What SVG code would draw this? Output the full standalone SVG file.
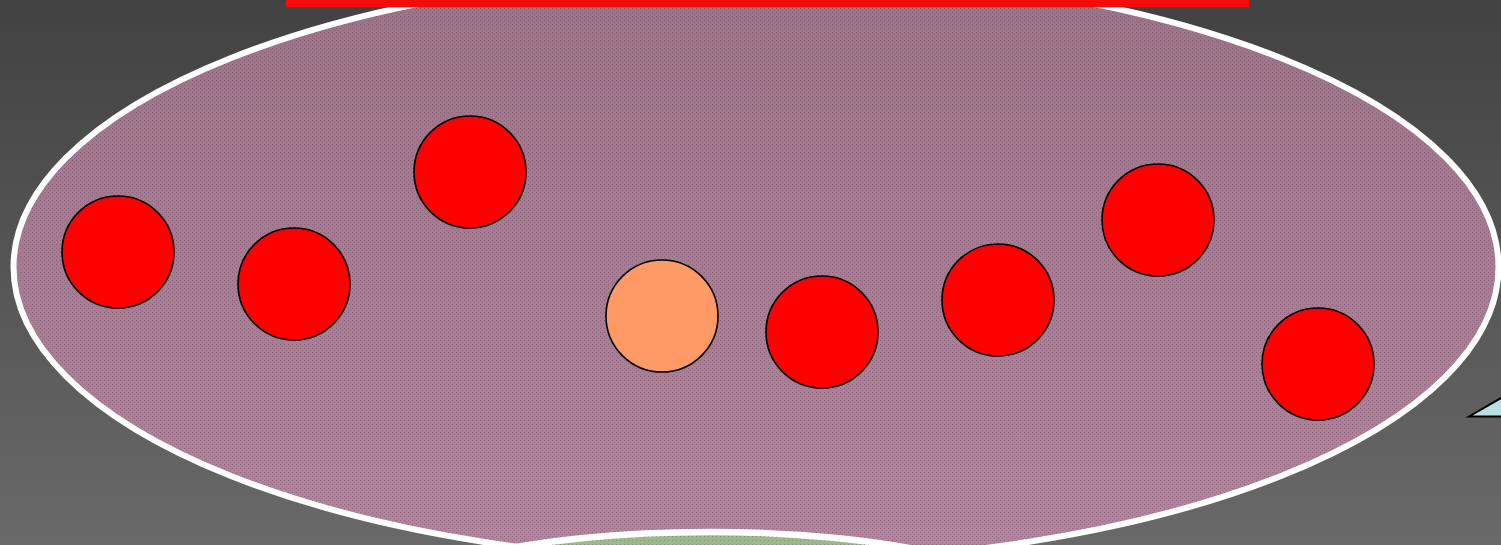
<svg xmlns="http://www.w3.org/2000/svg" width="1501" height="545" viewBox="0 0 1501 545">
  <defs>
    <linearGradient id="bg" x1="0" y1="0" x2="0" y2="1">
      <stop offset="0" stop-color="#424242"/>
      <stop offset="1" stop-color="#696969"/>
    </linearGradient>
    <linearGradient id="mauve" gradientUnits="userSpaceOnUse" x1="0" y1="0" x2="0" y2="545">
      <stop offset="0" stop-color="#a07189"/>
      <stop offset="1" stop-color="#b7829e"/>
    </linearGradient>
    <pattern id="dots" width="4" height="4" patternUnits="userSpaceOnUse">
      <rect x="0" y="0" width="1" height="1" fill="#5a5058" opacity="0.45"/>
      <rect x="2" y="2" width="1" height="1" fill="#5a5058" opacity="0.3"/>
    </pattern>
    <pattern id="dotsG" width="4" height="4" patternUnits="userSpaceOnUse">
      <rect x="0" y="0" width="1" height="1" fill="#6a7a62" opacity="0.5"/>
    </pattern>
  </defs>
  <style>
    .node { stroke: #000; stroke-width: 1.6; }
    .red { fill: #ff0000; }
    .orange { fill: #ff9966; }
  </style>
  <rect x="0" y="0" width="1501" height="545" fill="url(#bg)"/>

  <g id="region">
    <ellipse cx="756" cy="267" rx="742.5" ry="295.5" fill="url(#mauve)"/>
    <ellipse cx="756" cy="267" rx="742.5" ry="295.5" fill="url(#dots)" stroke="#ffffff" stroke-width="6"/>
  </g>

  <g id="bottom-shape">
    <ellipse cx="710" cy="622" rx="350" ry="90" fill="#9db88f" stroke="#ffffff" stroke-width="6.5"/>
    <ellipse cx="710" cy="622" rx="347" ry="87" fill="url(#dotsG)"/>
  </g>

  <g id="top-bar">
    <rect x="286" y="0" width="963" height="7.3" fill="#f20d0d"/>
  </g>

  <g id="triangle">
    <polygon points="1469,416.5 1520,387 1520,416.5" fill="#b8e0e3" stroke="#000" stroke-width="2" stroke-linejoin="miter"/>
  </g>

  <g id="connectors"/>

  <g id="node1"><circle class="node red" cx="118" cy="252" r="56"/></g>
  <g id="node2"><circle class="node red" cx="294" cy="284" r="56"/></g>
  <g id="node3"><circle class="node red" cx="470" cy="172" r="56"/></g>
  <g id="node4"><circle class="node orange" cx="662" cy="316" r="56"/></g>
  <g id="node5"><circle class="node red" cx="822" cy="332" r="56"/></g>
  <g id="node6"><circle class="node red" cx="998" cy="300" r="56"/></g>
  <g id="node7"><circle class="node red" cx="1158" cy="220" r="56"/></g>
  <g id="node8"><circle class="node red" cx="1318" cy="364" r="56"/></g>
</svg>
